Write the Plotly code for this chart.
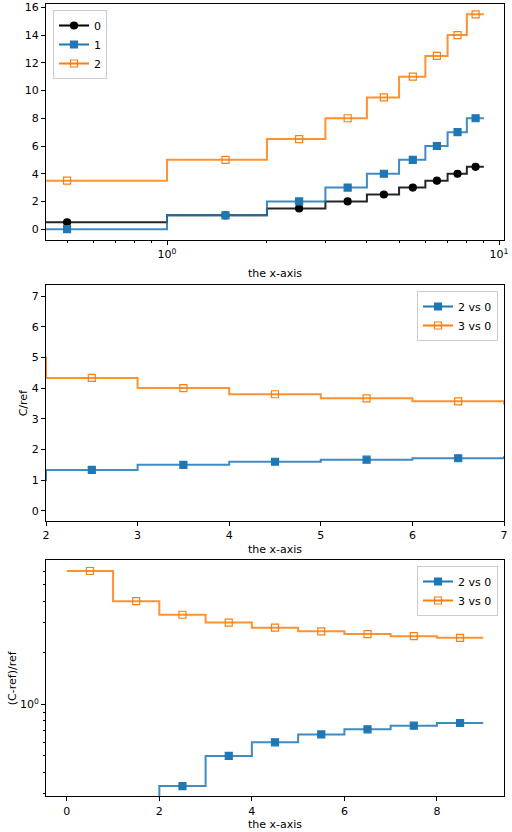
import plotly.graph_objects as go

# bin edges / centres shared by all three panels
edges = [0, 1, 2, 3, 4, 5, 6, 7, 8, 9]
centers = [0.5, 1.5, 2.5, 3.5, 4.5, 5.5, 6.5, 7.5, 8.5]

# top panel: the three series
series_0 = [0.5, 1.0, 1.5, 2.0, 2.5, 3.0, 3.5, 4.0, 4.5]
series_1 = [0.0, 1.0, 2.0, 3.0, 4.0, 5.0, 6.0, 7.0, 8.0]
series_2 = [3.5, 5.0, 6.5, 8.0, 9.5, 11.0, 12.5, 14.0, 15.5]

# middle panel: C/ref
ratio_2vs0 = [0.0, 1.0, 1.333, 1.5, 1.6, 1.667, 1.714, 1.75, 1.778]
ratio_3vs0 = [7.0, 5.0, 4.333, 4.0, 3.8, 3.667, 3.571, 3.5, 3.444]

# bottom panel: (C-ref)/ref
rel_2vs0 = [-1.0, 0.0, 0.333, 0.5, 0.6, 0.667, 0.714, 0.75, 0.778]
rel_3vs0 = [6.0, 4.0, 3.333, 3.0, 2.8, 2.667, 2.571, 2.5, 2.444]

BLACK = "#000000"
BLUE = "#1f77b4"
ORANGE = "#ff7f0e"
FONT = "DejaVu Sans"
FS = 11

fig = go.Figure()


def add_series(x_edges, vals, color, symbol, name, ax, legend):
    xa, ya = "x" + ax, "y" + ax
    # step line
    fig.add_trace(go.Scatter(
        x=x_edges, y=list(vals) + [vals[-1]], mode="lines",
        line=dict(color=color, width=2, shape="hv"), opacity=0.85,
        xaxis=xa, yaxis=ya, showlegend=False, hoverinfo="skip"))
    # markers at bin centres
    fig.add_trace(go.Scatter(
        x=centers, y=vals, mode="markers",
        marker=dict(symbol=symbol, size=7, color=color,
                    line=dict(color=color, width=1.2)),
        xaxis=xa, yaxis=ya, showlegend=False))
    # legend entry (line + marker)
    fig.add_trace(go.Scatter(
        x=[None], y=[None], mode="lines+markers", name=name,
        line=dict(color=color, width=2),
        marker=dict(symbol=symbol, size=7, color=color,
                    line=dict(color=color, width=1.2)),
        xaxis=xa, yaxis=ya, legend=legend))


# log x cannot show edge 0, push it off the left side
log_edges = [0.01] + edges[1:]
add_series(log_edges, series_0, BLACK, "circle", "0", "", "legend")
add_series(log_edges, series_1, BLUE, "square", "1", "", "legend")
add_series(log_edges, series_2, ORANGE, "square-open", "2", "", "legend")

add_series(edges, ratio_2vs0, BLUE, "square", "2 vs 0", "2", "legend2")
add_series(edges, ratio_3vs0, ORANGE, "square-open", "3 vs 0", "2", "legend2")

# non-positive values clipped below the log axis, like matplotlib does
rel_2vs0_plot = [v if v > 0 else 1e-3 for v in rel_2vs0]
add_series(edges, rel_2vs0_plot, BLUE, "square", "2 vs 0", "3", "legend3")
add_series(edges, rel_3vs0, ORANGE, "square-open", "3 vs 0", "3", "legend3")

W, H = 512, 832
xdom = [46 / W, 504 / W]


def ydom(top, bottom):
    return [1 - bottom / H, 1 - top / H]


axis_style = dict(
    showline=True, mirror=True, linecolor="black", linewidth=1,
    ticks="outside", ticklen=4, tickwidth=1, tickcolor="black",
    showgrid=False, zeroline=False, automargin=False,
    tickfont=dict(family=FONT, size=FS, color="black"),
)
title_font = dict(family=FONT, size=FS, color="black")

legend_style = dict(
    font=dict(family=FONT, size=FS, color="black"),
    bgcolor="rgba(255,255,255,0.8)", bordercolor="#cccccc", borderwidth=1,
    itemwidth=30, tracegroupgap=0,
)

fig.update_layout(
    width=W, height=H, margin=dict(l=0, r=0, t=0, b=0),
    paper_bgcolor="white", plot_bgcolor="white",
    font=dict(family=FONT, size=FS, color="black"),
    # top panel
    xaxis=dict(axis_style, domain=xdom, anchor="y", type="log",
               range=[-0.3645, 1.015], tickmode="array", tickvals=[1, 10],
               ticktext=["10<sup>0</sup>", "10<sup>1</sup>"],
               minor=dict(ticks="outside", ticklen=2, tickcolor="black",
                          tickvals=[0.5, 0.6, 0.7, 0.8, 0.9, 2, 3, 4, 5, 6, 7, 8, 9]),
               title=dict(text="the x-axis", font=title_font, standoff=9)),
    yaxis=dict(axis_style, domain=ydom(4.3, 240), anchor="x",
               range=[-0.78, 16.22], tick0=0, dtick=2),
    # middle panel
    xaxis2=dict(axis_style, domain=xdom, anchor="y2", range=[2, 7], dtick=1,
                title=dict(text="the x-axis", font=title_font, standoff=4)),
    yaxis2=dict(axis_style, domain=ydom(285.3, 521), anchor="x2",
                range=[-0.33, 7.35], tick0=0, dtick=1,
                title=dict(text="C/ref", font=title_font, standoff=1)),
    # bottom panel
    xaxis3=dict(axis_style, domain=xdom, anchor="y3", range=[-0.45, 9.45],
                tick0=0, dtick=2,
                title=dict(text="the x-axis", font=title_font, standoff=3)),
    yaxis3=dict(axis_style, domain=ydom(560.3, 796.3), anchor="x3", type="log",
                range=[-0.537, 0.8406], tickmode="array", tickvals=[1],
                ticktext=["10<sup>0</sup>"],
                minor=dict(ticks="outside", ticklen=2, tickcolor="black",
                           tickvals=[0.3, 0.4, 0.5, 0.6, 0.7, 0.8, 0.9, 2, 3, 4, 5, 6]),
                title=dict(text="(C-ref)/ref", font=title_font, standoff=1)),
    legend=dict(legend_style, x=53 / W, y=1 - 10 / H, xanchor="left", yanchor="top"),
    legend2=dict(legend_style, x=498 / W, y=1 - 291 / H, xanchor="right", yanchor="top"),
    legend3=dict(legend_style, x=498 / W, y=1 - 566 / H, xanchor="right", yanchor="top"),
)

# the page body has a default 8px margin; drop it so the figure fills the window
fig.write_html("out.html", config={"displayModeBar": False},
               post_script="document.body.style.margin = '0px';")
